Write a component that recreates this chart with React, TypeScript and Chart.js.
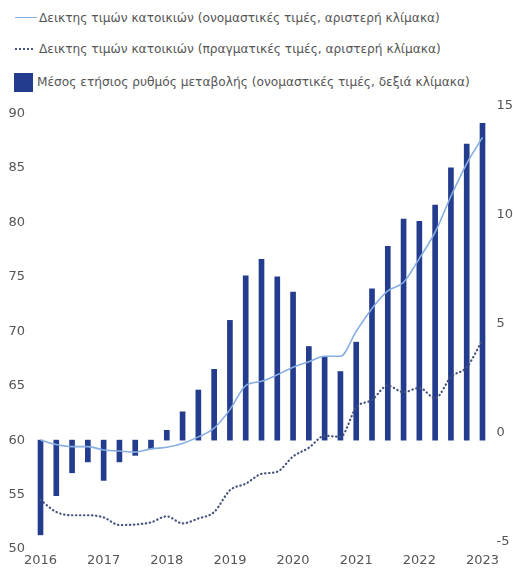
import React, { useEffect, useRef } from "react";
import { Chart, registerables } from "chart.js";

Chart.register(...registerables);

const quarters = [
  "2016Q1", "2016Q2", "2016Q3", "2016Q4",
  "2017Q1", "2017Q2", "2017Q3", "2017Q4",
  "2018Q1", "2018Q2", "2018Q3", "2018Q4",
  "2019Q1", "2019Q2", "2019Q3", "2019Q4",
  "2020Q1", "2020Q2", "2020Q3", "2020Q4",
  "2021Q1", "2021Q2", "2021Q3", "2021Q4",
  "2022Q1", "2022Q2", "2022Q3", "2022Q4",
  "2023Q1",
];

const yearLabels = ["2016", "2017", "2018", "2019", "2020", "2021", "2022", "2023"];

// Average annual rate of change, nominal (right scale)
const annualChange = [
  -4.35, -2.55, -1.5, -1.0, -1.85, -1.0, -0.7, -0.4,
  0.45, 1.3, 2.3, 3.25, 5.5, 7.55, 8.3, 7.5,
  6.8, 4.3, 3.8, 3.15, 4.5, 6.95, 8.9, 10.15,
  10.05, 10.8, 12.5, 13.6, 14.55,
];

// Residential property price index, nominal (left scale)
const nominalIndex = [
  60.0, 59.6, 59.4, 59.4, 59.1, 59.0, 58.9, 59.2,
  59.35, 59.7, 60.3, 61.1, 62.8, 65.0, 65.4, 66.0,
  66.7, 67.2, 67.7, 67.7, 70.0, 72.1, 73.7, 74.5,
  76.7, 79.1, 82.4, 85.4, 87.8,
];

// Residential property price index, real (left scale)
const realIndex = [
  54.5, 53.4, 53.1, 53.1, 52.9, 52.2, 52.25, 52.45,
  53.0, 52.35, 52.8, 53.4, 55.4, 56.0, 56.9, 57.1,
  58.5, 59.3, 60.4, 60.3, 63.0, 63.7, 65.0, 64.4,
  64.8, 63.85, 65.8, 66.7, 69.2,
];

const legendLabels = [
  "Δεικτης τιμών κατοικιών (ονομαστικές τιμές, αριστερή κλίμακα)",
  "Δεικτης τιμών κατοικιών (πραγματικές τιμές, αριστερή κλίμακα)",
  "Μέσος ετήσιος ρυθμός μεταβολής (ονομαστικές τιμές, δεξιά κλίμακα)",
];

const BAR_COLOR = "#233c8e";
const NOMINAL_COLOR = "#86aee0";
const REAL_COLOR = "#46527e";
const TEXT_COLOR = "#555555";
const FONT = "'DejaVu Sans', sans-serif";

export default function App() {
  const canvasRef = useRef<HTMLCanvasElement | null>(null);

  useEffect(() => {
    if (!canvasRef.current) return;
    const chart = new Chart(canvasRef.current, {
      type: "bar",
      data: {
        labels: quarters,
        datasets: [
          {
            type: "line",
            label: legendLabels[0],
            data: nominalIndex,
            yAxisID: "y",
            borderColor: NOMINAL_COLOR,
            borderWidth: 1.6,
            pointRadius: 0,
            cubicInterpolationMode: "monotone",
            order: 1,
            clip: false,
          } as any,
          {
            type: "line",
            label: legendLabels[1],
            data: realIndex,
            yAxisID: "y",
            borderColor: REAL_COLOR,
            borderWidth: 2.2,
            borderDash: [0.4, 3.6],
            borderCapStyle: "round",
            pointRadius: 0,
            cubicInterpolationMode: "monotone",
            order: 2,
            clip: false,
          } as any,
          {
            type: "bar",
            label: legendLabels[2],
            data: annualChange,
            yAxisID: "y2",
            backgroundColor: BAR_COLOR,
            barThickness: 5,
            order: 10,
            clip: false,
          } as any,
        ],
      },
      options: {
        animation: false,
        responsive: false,
        layout: { padding: { top: 18.5, left: 0, right: 0, bottom: 0 } },
        plugins: {
          legend: { display: false },
          tooltip: { enabled: false },
        },
        scales: {
          x: {
            type: "category",
            offset: false,
            grid: { display: false, drawTicks: false, offset: false },
            border: { display: false },
            ticks: {
              autoSkip: false,
              maxRotation: 0,
              minRotation: 0,
              padding: 4,
              color: TEXT_COLOR,
              font: { family: FONT, size: 13 },
              callback: (_v: any, i: number) => (i % 4 === 0 ? yearLabels[i / 4] : ""),
            },
            afterFit: (s: any) => {
              s.height = 25;
            },
          },
          y: {
            position: "left",
            min: 50,
            max: 90,
            grid: { display: false, drawTicks: false },
            border: { display: false },
            ticks: {
              stepSize: 5,
              padding: 15.5,
              color: TEXT_COLOR,
              font: { family: FONT, size: 13 },
            },
            afterFit: (s: any) => {
              s.width = 40.5;
              s.paddingTop = 0;
              s.paddingBottom = 0;
            },
          },
          y2: {
            position: "right",
            min: -5,
            max: 15,
            grid: { display: false, drawTicks: false },
            border: { display: false },
            ticks: {
              stepSize: 5,
              padding: 14,
              crossAlign: "near",
              labelOffset: -7.5,
              color: TEXT_COLOR,
              font: { family: FONT, size: 13 },
            },
            afterFit: (s: any) => {
              s.width = 30.5;
              s.paddingTop = 0;
              s.paddingBottom = 0;
            },
          },
        },
      } as any,
    });
    return () => chart.destroy();
  }, []);

  const rowStyle = (top: number, left: number): React.CSSProperties => ({
    position: "absolute",
    top,
    left,
    fontFamily: FONT,
    fontSize: 12.2,
    lineHeight: "16px",
    color: TEXT_COLOR,
    whiteSpace: "nowrap",
  });

  return (
    <div
      style={{
        position: "absolute",
        left: 0,
        top: 0,
        width: 513,
        height: 574,
        background: "#ffffff",
        overflow: "hidden",
      }}
    >
      <div style={{ position: "absolute", left: 15, top: 17, width: 22, height: 0, borderTop: `1.6px solid ${NOMINAL_COLOR}` }} />
      <div style={rowStyle(10, 39)}>{legendLabels[0]}</div>
      <div style={{ position: "absolute", left: 15, top: 48, width: 18, height: 0, borderTop: `2px dotted ${REAL_COLOR}` }} />
      <div style={rowStyle(41, 39)}>{legendLabels[1]}</div>
      <div style={{ position: "absolute", left: 14, top: 73, width: 19, height: 19, background: BAR_COLOR }} />
      <div style={rowStyle(74, 37)}>{legendLabels[2]}</div>
      <canvas
        ref={canvasRef}
        width={513}
        height={479}
        style={{ position: "absolute", left: 0, top: 95, width: 513, height: 479 }}
      />
    </div>
  );
}
